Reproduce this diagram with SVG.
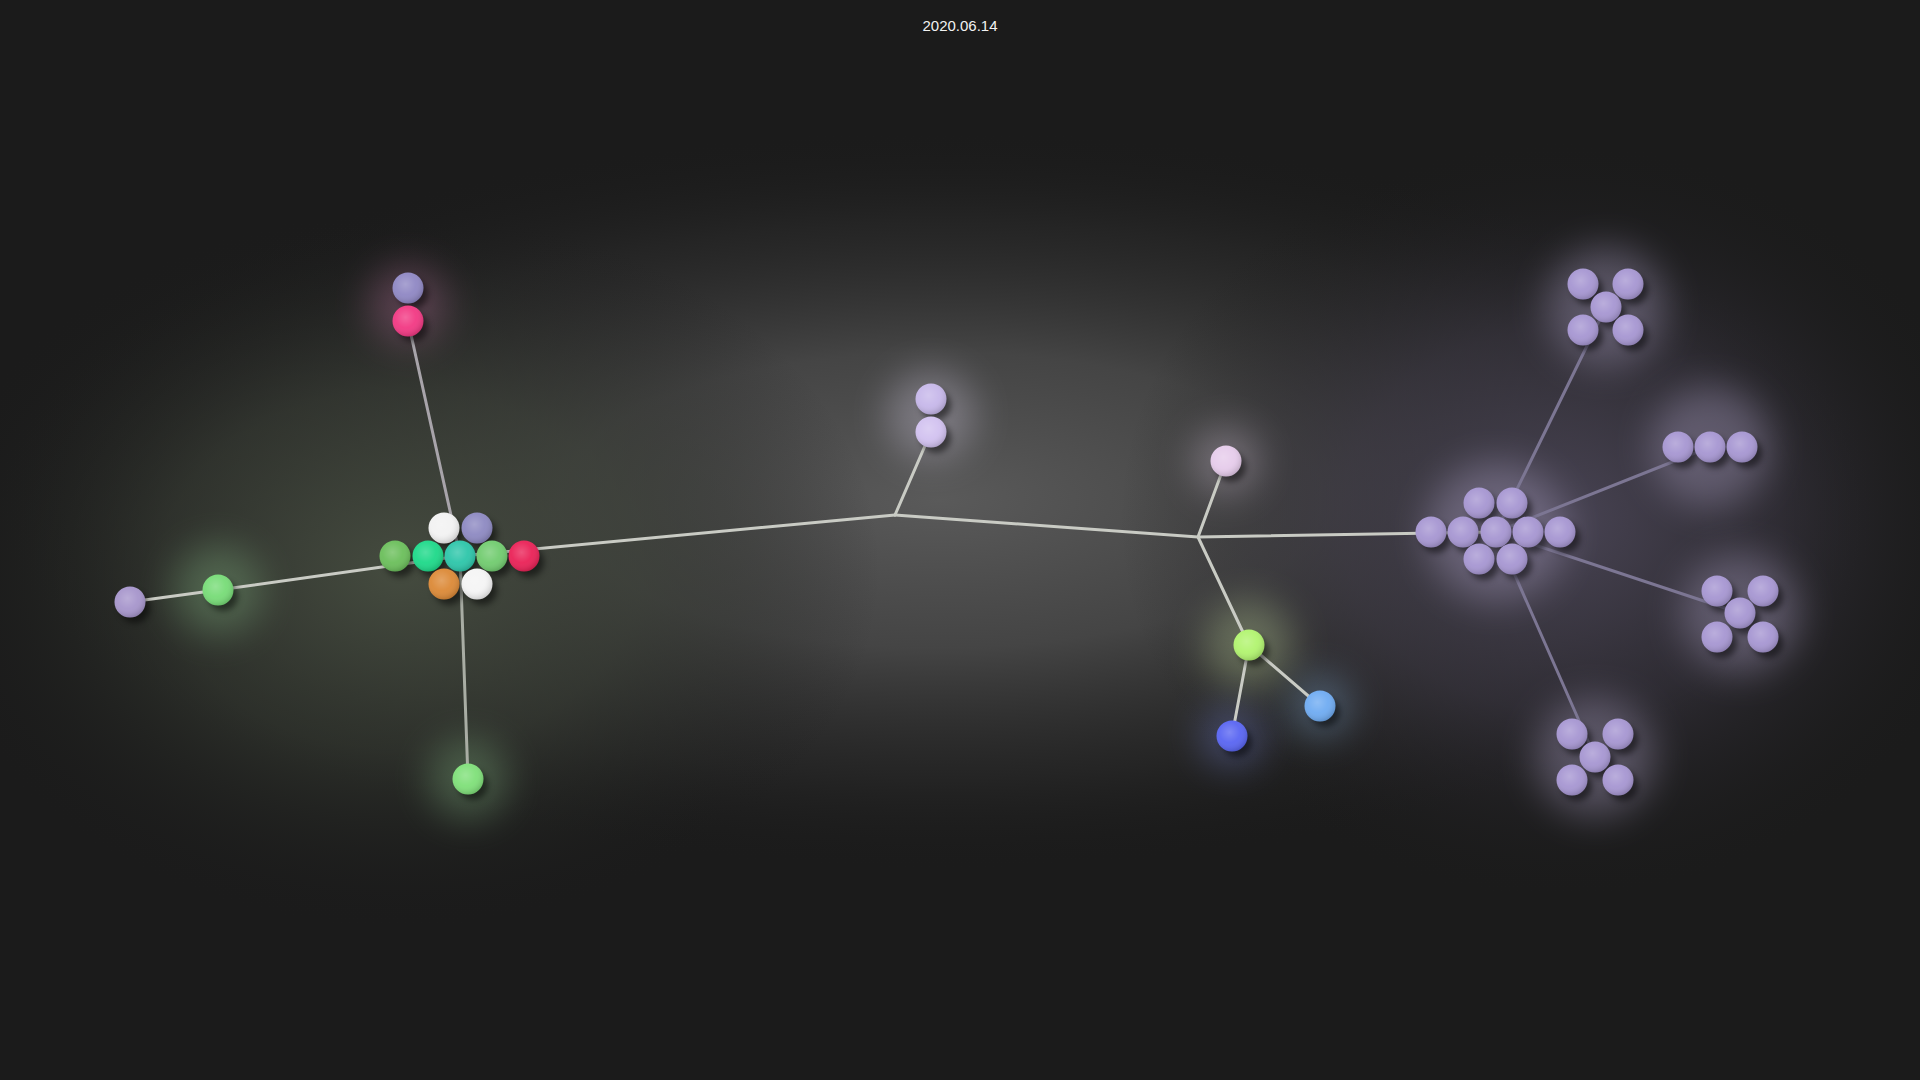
<svg xmlns="http://www.w3.org/2000/svg" width="1920" height="1080" viewBox="0 0 1920 1080">
<defs>
<radialGradient id="bg1" cx="0.5" cy="0.5" r="0.5">
<stop offset="0" stop-color="#5a5a5a" stop-opacity="1"/>
<stop offset="0.4" stop-color="#4c4c4c" stop-opacity="0.85"/>
<stop offset="0.75" stop-color="#333333" stop-opacity="0.4"/>
<stop offset="1" stop-color="#1b1b1b" stop-opacity="0"/>
</radialGradient>
<radialGradient id="bgL" cx="0.5" cy="0.5" r="0.5">
<stop offset="0" stop-color="#464d40" stop-opacity="0.95"/>
<stop offset="0.5" stop-color="#383d34" stop-opacity="0.6"/>
<stop offset="1" stop-color="#1b1b1b" stop-opacity="0"/>
</radialGradient>
<radialGradient id="bgR" cx="0.5" cy="0.5" r="0.5">
<stop offset="0" stop-color="#4a4556" stop-opacity="0.95"/>
<stop offset="0.5" stop-color="#3a3642" stop-opacity="0.6"/>
<stop offset="1" stop-color="#1b1b1b" stop-opacity="0"/>
</radialGradient>
<filter id="blur" x="-50%" y="-50%" width="200%" height="200%"><feGaussianBlur stdDeviation="18"/></filter>
<filter id="sh" x="-50%" y="-50%" width="200%" height="200%"><feGaussianBlur stdDeviation="3"/></filter>
<radialGradient id="shade" cx="0.42" cy="0.38" r="0.62">
<stop offset="0" stop-color="#ffffff" stop-opacity="0.22"/>
<stop offset="0.55" stop-color="#ffffff" stop-opacity="0.04"/>
<stop offset="1" stop-color="#000000" stop-opacity="0.15"/>
</radialGradient>
<style>
text{font-family:"Liberation Sans",Arial,sans-serif;fill:#f2f2f2;font-size:15px;}
.e{fill:none;stroke:#c9cbc4;stroke-width:3;stroke-linecap:round;}
.ep{fill:none;stroke:#7c7693;stroke-width:3;stroke-linecap:round;}
.s{fill:#000;opacity:0.5;filter:url(#sh);}
.g{filter:url(#blur);opacity:0.3;}
.hl{fill:url(#shade);}
.pu{fill:#a797d2;}
</style>
</defs>
<rect width="1920" height="1080" fill="#1b1b1b"/>
<g id="background">
<ellipse cx="940" cy="500" rx="950" ry="370" fill="url(#bg1)"/>
<ellipse cx="400" cy="570" rx="480" ry="360" fill="url(#bgL)"/>
<ellipse cx="1560" cy="520" rx="440" ry="380" fill="url(#bgR)"/>
</g>
<g id="glows">
<circle class="g" cx="408" cy="305" r="40" fill="#c878a8"/>
<circle class="g" cx="218" cy="590" r="45" fill="#90c890"/>
<circle class="g" cx="468" cy="779" r="40" fill="#90c890"/>
<circle class="g" cx="931" cy="415" r="45" fill="#e0d8f0"/>
<circle class="g" cx="1226" cy="461" r="35" fill="#e0d0e4"/>
<circle class="g" cx="1249" cy="645" r="45" fill="#d0e8a8"/>
<circle class="g" cx="1232" cy="736" r="32" fill="#8090f0"/>
<circle class="g" cx="1320" cy="706" r="32" fill="#90c0f0"/>
<circle class="g" cx="1606" cy="307" r="60" fill="#c4b8e0"/>
<circle class="g" cx="1710" cy="447" r="60" fill="#c4b8e0"/>
<circle class="g" cx="1740" cy="613" r="60" fill="#c4b8e0"/>
<circle class="g" cx="1595" cy="757" r="60" fill="#c4b8e0"/>
<circle class="g" cx="1496" cy="532" r="70" fill="#c4b8e0"/>
</g>
<g id="connectors">
<line class="e" x1="460" y1="556" x2="895" y2="515"/>
<line class="e" x1="895" y1="515" x2="1198" y2="537"/>
<line class="e" x1="895" y1="515" x2="931" y2="432"/>
<line class="e" x1="1198" y1="537" x2="1226" y2="461"/>
<line class="e" x1="1198" y1="537" x2="1249" y2="645"/>
<line class="e" x1="1198" y1="537" x2="1496" y2="532"/>
<line class="e" x1="1249" y1="645" x2="1232" y2="736"/>
<line class="e" x1="1249" y1="645" x2="1320" y2="706"/>
<line class="e" x1="460" y1="556" x2="218" y2="590"/>
<line class="e" x1="218" y1="590" x2="130" y2="602"/>
<line class="e" x1="460" y1="556" x2="468" y2="779" style="stroke:#a9ada4"/>
<line class="e" x1="460" y1="556" x2="408" y2="321" style="stroke:#a8a4aa"/>
<line class="ep" x1="1496" y1="532" x2="1606" y2="307"/>
<line class="ep" x1="1496" y1="532" x2="1710" y2="447"/>
<line class="ep" x1="1496" y1="532" x2="1740" y2="613"/>
<line class="ep" x1="1496" y1="532" x2="1595" y2="757"/>
</g>
<g id="node-left-cluster">
<circle class="s" cx="449" cy="534" r="15"/><circle class="s" cx="482" cy="534" r="15"/>
<circle class="s" cx="400" cy="562" r="15"/><circle class="s" cx="433" cy="562" r="15"/><circle class="s" cx="465" cy="562" r="15"/><circle class="s" cx="497" cy="562" r="15"/><circle class="s" cx="529" cy="562" r="15"/>
<circle class="s" cx="449" cy="590" r="15"/><circle class="s" cx="482" cy="590" r="15"/>
<circle cx="444" cy="528" r="15.5" fill="#f2f2f2"/><circle class="hl" cx="444" cy="528" r="15.5"/>
<circle cx="477" cy="528" r="15.5" fill="#8e8ac2"/><circle class="hl" cx="477" cy="528" r="15.5"/>
<circle cx="395" cy="556" r="15.5" fill="#6cbf5c"/><circle class="hl" cx="395" cy="556" r="15.5"/>
<circle cx="428" cy="556" r="15.5" fill="#1fd98a"/><circle class="hl" cx="428" cy="556" r="15.5"/>
<circle cx="460" cy="556" r="15.5" fill="#2ec6aa"/><circle class="hl" cx="460" cy="556" r="15.5"/>
<circle cx="492" cy="556" r="15.5" fill="#72cc70"/><circle class="hl" cx="492" cy="556" r="15.5"/>
<circle cx="524" cy="556" r="15.5" fill="#ea2358"/><circle class="hl" cx="524" cy="556" r="15.5"/>
<circle cx="444" cy="584" r="15.5" fill="#dc8a38"/><circle class="hl" cx="444" cy="584" r="15.5"/>
<circle cx="477" cy="584" r="15.5" fill="#f4f4f4"/><circle class="hl" cx="477" cy="584" r="15.5"/>
</g>
<g id="node-top-left">
<circle class="s" cx="413" cy="294" r="15"/><circle class="s" cx="413" cy="327" r="15"/>
<circle cx="408" cy="288" r="15.5" fill="#9088c4"/><circle class="hl" cx="408" cy="288" r="15.5"/>
<circle cx="408" cy="321" r="15.5" fill="#f23a84"/><circle class="hl" cx="408" cy="321" r="15.5"/>
</g>
<g id="node-left-green">
<circle class="s" cx="223" cy="596" r="15"/>
<circle cx="218" cy="590" r="15.5" fill="#78dc78"/><circle class="hl" cx="218" cy="590" r="15.5"/>
</g>
<g id="node-left-purple">
<circle class="s" cx="135" cy="608" r="15"/>
<circle cx="130" cy="602" r="15.5" fill="#a796cc"/><circle class="hl" cx="130" cy="602" r="15.5"/>
</g>
<g id="node-bottom-green">
<circle class="s" cx="473" cy="785" r="15"/>
<circle cx="468" cy="779" r="15.5" fill="#80e07a"/><circle class="hl" cx="468" cy="779" r="15.5"/>
</g>
<g id="node-center-top">
<circle class="s" cx="936" cy="405" r="15"/><circle class="s" cx="936" cy="438" r="15"/>
<circle cx="931" cy="399" r="15.5" fill="#c7b8ea"/><circle class="hl" cx="931" cy="399" r="15.5"/>
<circle cx="931" cy="432" r="15.5" fill="#d2c2f0"/><circle class="hl" cx="931" cy="432" r="15.5"/>
</g>
<g id="node-light-pink">
<circle class="s" cx="1231" cy="467" r="15"/>
<circle cx="1226" cy="461" r="15.5" fill="#e6cceb"/><circle class="hl" cx="1226" cy="461" r="15.5"/>
</g>
<g id="node-lime">
<circle class="s" cx="1254" cy="651" r="15"/>
<circle cx="1249" cy="645" r="15.5" fill="#b2f470"/><circle class="hl" cx="1249" cy="645" r="15.5"/>
</g>
<g id="node-blue">
<circle class="s" cx="1237" cy="742" r="15"/>
<circle cx="1232" cy="736" r="15.5" fill="#5a66f2"/><circle class="hl" cx="1232" cy="736" r="15.5"/>
</g>
<g id="node-light-blue">
<circle class="s" cx="1325" cy="712" r="15"/>
<circle cx="1320" cy="706" r="15.5" fill="#70acf2"/><circle class="hl" cx="1320" cy="706" r="15.5"/>
</g>
<g id="node-hub">
<circle class="s" cx="1484" cy="509" r="15"/><circle class="s" cx="1517" cy="509" r="15"/>
<circle class="s" cx="1436" cy="538" r="15"/><circle class="s" cx="1468" cy="538" r="15"/><circle class="s" cx="1501" cy="538" r="15"/><circle class="s" cx="1533" cy="538" r="15"/><circle class="s" cx="1565" cy="538" r="15"/>
<circle class="s" cx="1484" cy="565" r="15"/><circle class="s" cx="1517" cy="565" r="15"/>
<circle class="pu" cx="1479" cy="503" r="15.5"/><circle class="hl" cx="1479" cy="503" r="15.5"/>
<circle class="pu" cx="1512" cy="503" r="15.5"/><circle class="hl" cx="1512" cy="503" r="15.5"/>
<circle class="pu" cx="1431" cy="532" r="15.5"/><circle class="hl" cx="1431" cy="532" r="15.5"/>
<circle class="pu" cx="1463" cy="532" r="15.5"/><circle class="hl" cx="1463" cy="532" r="15.5"/>
<circle class="pu" cx="1496" cy="532" r="15.5"/><circle class="hl" cx="1496" cy="532" r="15.5"/>
<circle class="pu" cx="1528" cy="532" r="15.5"/><circle class="hl" cx="1528" cy="532" r="15.5"/>
<circle class="pu" cx="1560" cy="532" r="15.5"/><circle class="hl" cx="1560" cy="532" r="15.5"/>
<circle class="pu" cx="1479" cy="559" r="15.5"/><circle class="hl" cx="1479" cy="559" r="15.5"/>
<circle class="pu" cx="1512" cy="559" r="15.5"/><circle class="hl" cx="1512" cy="559" r="15.5"/>
</g>
<g id="node-top-right">
<circle class="s" cx="1588" cy="290" r="15"/><circle class="s" cx="1633" cy="290" r="15"/><circle class="s" cx="1611" cy="313" r="15"/><circle class="s" cx="1588" cy="336" r="15"/><circle class="s" cx="1633" cy="336" r="15"/>
<circle class="pu" cx="1583" cy="284" r="15.5"/><circle class="hl" cx="1583" cy="284" r="15.5"/>
<circle class="pu" cx="1628" cy="284" r="15.5"/><circle class="hl" cx="1628" cy="284" r="15.5"/>
<circle class="pu" cx="1606" cy="307" r="15.5"/><circle class="hl" cx="1606" cy="307" r="15.5"/>
<circle class="pu" cx="1583" cy="330" r="15.5"/><circle class="hl" cx="1583" cy="330" r="15.5"/>
<circle class="pu" cx="1628" cy="330" r="15.5"/><circle class="hl" cx="1628" cy="330" r="15.5"/>
</g>
<g id="node-row-three">
<circle class="s" cx="1683" cy="453" r="15"/><circle class="s" cx="1715" cy="453" r="15"/><circle class="s" cx="1747" cy="453" r="15"/>
<circle class="pu" cx="1678" cy="447" r="15.5"/><circle class="hl" cx="1678" cy="447" r="15.5"/>
<circle class="pu" cx="1710" cy="447" r="15.5"/><circle class="hl" cx="1710" cy="447" r="15.5"/>
<circle class="pu" cx="1742" cy="447" r="15.5"/><circle class="hl" cx="1742" cy="447" r="15.5"/>
</g>
<g id="node-right">
<circle class="s" cx="1722" cy="597" r="15"/><circle class="s" cx="1768" cy="597" r="15"/><circle class="s" cx="1745" cy="619" r="15"/><circle class="s" cx="1722" cy="643" r="15"/><circle class="s" cx="1768" cy="643" r="15"/>
<circle class="pu" cx="1717" cy="591" r="15.5"/><circle class="hl" cx="1717" cy="591" r="15.5"/>
<circle class="pu" cx="1763" cy="591" r="15.5"/><circle class="hl" cx="1763" cy="591" r="15.5"/>
<circle class="pu" cx="1740" cy="613" r="15.5"/><circle class="hl" cx="1740" cy="613" r="15.5"/>
<circle class="pu" cx="1717" cy="637" r="15.5"/><circle class="hl" cx="1717" cy="637" r="15.5"/>
<circle class="pu" cx="1763" cy="637" r="15.5"/><circle class="hl" cx="1763" cy="637" r="15.5"/>
</g>
<g id="node-bottom-right">
<circle class="s" cx="1577" cy="740" r="15"/><circle class="s" cx="1623" cy="740" r="15"/><circle class="s" cx="1600" cy="763" r="15"/><circle class="s" cx="1577" cy="786" r="15"/><circle class="s" cx="1623" cy="786" r="15"/>
<circle class="pu" cx="1572" cy="734" r="15.5"/><circle class="hl" cx="1572" cy="734" r="15.5"/>
<circle class="pu" cx="1618" cy="734" r="15.5"/><circle class="hl" cx="1618" cy="734" r="15.5"/>
<circle class="pu" cx="1595" cy="757" r="15.5"/><circle class="hl" cx="1595" cy="757" r="15.5"/>
<circle class="pu" cx="1572" cy="780" r="15.5"/><circle class="hl" cx="1572" cy="780" r="15.5"/>
<circle class="pu" cx="1618" cy="780" r="15.5"/><circle class="hl" cx="1618" cy="780" r="15.5"/>
</g>
<text x="960" y="31" text-anchor="middle">2020.06.14</text>
</svg>
